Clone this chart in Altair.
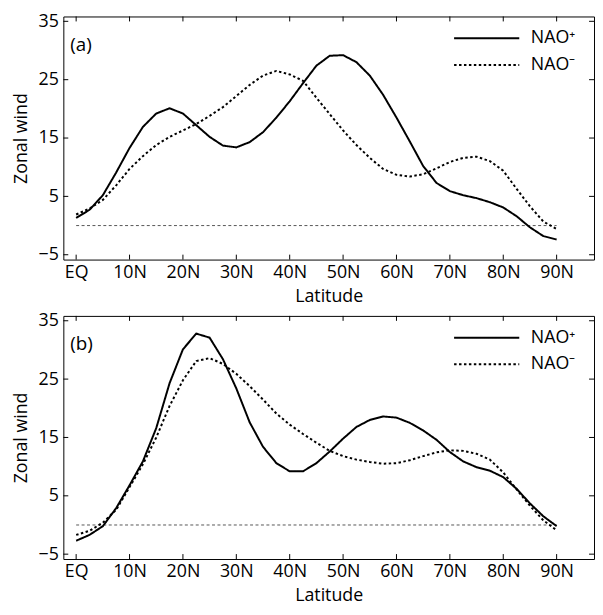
import altair as alt
import pandas as pd

lat = [i * 2.5 for i in range(37)]

a_pos = [1.3, 2.7, 5.2, 9.1, 13.3, 16.9, 19.2, 20.1, 19.2, 17.2, 15.2, 13.7, 13.4, 14.3,
         16.0, 18.5, 21.3, 24.4, 27.4, 29.1, 29.2, 28.0, 25.7, 22.4, 18.5, 14.4, 10.2,
         7.3, 5.9, 5.2, 4.7, 4.0, 3.1, 1.6, -0.3, -1.8, -2.4]
a_neg = [1.9, 2.9, 4.4, 6.9, 9.7, 11.9, 13.8, 15.2, 16.3, 17.4, 18.8, 20.3, 22.2, 24.1,
         25.7, 26.5, 25.9, 24.8, 21.9, 19.1, 16.3, 13.8, 11.6, 9.7, 8.7, 8.4, 8.8,
         9.8, 10.9, 11.6, 11.8, 11.05, 9.4, 6.3, 3.3, 0.7, -0.6]
b_pos = [-2.7, -1.7, -0.2, 2.9, 6.8, 10.9, 16.6, 24.3, 30.1, 32.8, 32.1, 28.4, 23.4, 17.6,
         13.4, 10.6, 9.2, 9.2, 10.6, 12.6, 14.8, 16.8, 18.0, 18.6, 18.4, 17.5, 16.2,
         14.6, 12.5, 10.9, 9.9, 9.3, 8.2, 6.2, 3.7, 1.5, -0.2]
b_neg = [-1.7, -1.0, 0.4, 2.6, 6.5, 10.4, 15.0, 20.4, 24.8, 28.1, 28.6, 27.6, 25.9, 23.8,
         21.5, 19.1, 17.2, 15.6, 14.1, 12.7, 11.8, 11.2, 10.8, 10.5, 10.6, 11.1, 11.8,
         12.45, 12.8, 12.7, 12.2, 11.2, 9.0, 6.1, 3.3, 0.8, -0.9]

series_names = ["NAO\u207a", "NAO\u207b"]
panel_labels = ["(a)", "(b)"]

x_ticks = [0, 10, 20, 30, 40, 50, 60, 70, 80, 90]
x_tick_labels = ["EQ", "10N", "20N", "30N", "40N", "50N", "60N", "70N", "80N", "90N"]
y_ticks = [-5, 5, 15, 25, 35]
y_tick_labels = ["\u22125", "5", "15", "25", "35"]

zero_lat = [0, 90]
zero_val = [0, 0]

W, H = 537, 246
FONT = "Open Sans"
FS = 18


def label_expr(values, labels):
    s = "''"
    for v, l in reversed(list(zip(values, labels))):
        s = f"datum.value == {v} ? '{l}' : ({s})"
    return s


xscale = alt.Scale(domain=[-2.4, 97.0], nice=False, zero=False)
yscale = alt.Scale(domain=[-5.83, 35.83], nice=False, zero=False)


def panel(label, pos, neg):
    df = pd.DataFrame({
        "lat": lat * 2,
        "value": pos + neg,
        "series": [series_names[0]] * len(lat) + [series_names[1]] * len(lat),
    })
    lines = alt.Chart(df).mark_line(color="black", strokeWidth=2).encode(
        x=alt.X("lat:Q", scale=xscale,
                axis=alt.Axis(values=x_ticks, labelExpr=label_expr(x_ticks, x_tick_labels),
                              title="Latitude", labelPadding=4, titlePadding=6)),
        y=alt.Y("value:Q", scale=yscale,
                axis=alt.Axis(values=y_ticks, labelExpr=label_expr(y_ticks, y_tick_labels),
                              title="Zonal wind", labelPadding=5, titlePadding=8)),
        strokeDash=alt.StrokeDash(
            "series:N",
            scale=alt.Scale(domain=series_names, range=[[1, 0], [2.5, 2.5]]),
            legend=alt.Legend(
                title=None, orient="none", legendX=393, legendY=13,
                symbolType="M-1,0H9", symbolSize=174, symbolStrokeWidth=2,
                symbolStrokeColor="black", symbolFillColor="transparent",
                labelOffset=62, labelFont=FONT, labelFontSize=FS, labelColor="black",
                rowPadding=9,
            ),
        ),
    )
    zdf = pd.DataFrame({"lat": zero_lat, "value": zero_val})
    zero = alt.Chart(zdf).mark_line(color="#555555", strokeWidth=1, strokeDash=[3, 2.5]).encode(
        x="lat:Q", y="value:Q")

    xt = pd.DataFrame({"lat": x_ticks})
    yt = pd.DataFrame({"value": y_ticks})
    tb = alt.Chart(xt).mark_rule(color="black", strokeWidth=1).encode(
        x="lat:Q", y=alt.value(H), y2=alt.value(H - 5))
    tt = alt.Chart(xt).mark_rule(color="black", strokeWidth=1).encode(
        x="lat:Q", y=alt.value(0), y2=alt.value(5))
    tl = alt.Chart(yt).mark_rule(color="black", strokeWidth=1).encode(
        y="value:Q", x=alt.value(0), x2=alt.value(5))
    tr = alt.Chart(yt).mark_rule(color="black", strokeWidth=1).encode(
        y="value:Q", x=alt.value(W), x2=alt.value(W - 5))

    txt = alt.Chart(pd.DataFrame({"t": [label]})).mark_text(
        align="left", baseline="middle", font=FONT, fontSize=FS + 1, color="black"
    ).encode(text="t:N", x=alt.value(7), y=alt.value(29))

    return alt.layer(zero, lines, tb, tt, tl, tr, txt).properties(width=W, height=H)


chart = alt.vconcat(
    panel(panel_labels[0], a_pos, a_neg),
    panel(panel_labels[1], b_pos, b_neg),
    spacing=5,
).resolve_scale(strokeDash="independent").resolve_legend(strokeDash="independent").properties(
    padding={"left": 3, "top": 0, "right": 0, "bottom": 0}
).configure_view(
    stroke="black", strokeWidth=1
).configure_axis(
    domain=False, ticks=False, grid=False,
    labelFont=FONT, labelFontSize=FS, labelColor="black",
    titleFont=FONT, titleFontSize=FS, titleColor="black", titleFontWeight="normal",
)

chart.save("out.html", embed_options={"renderer": "svg", "actions": False})
